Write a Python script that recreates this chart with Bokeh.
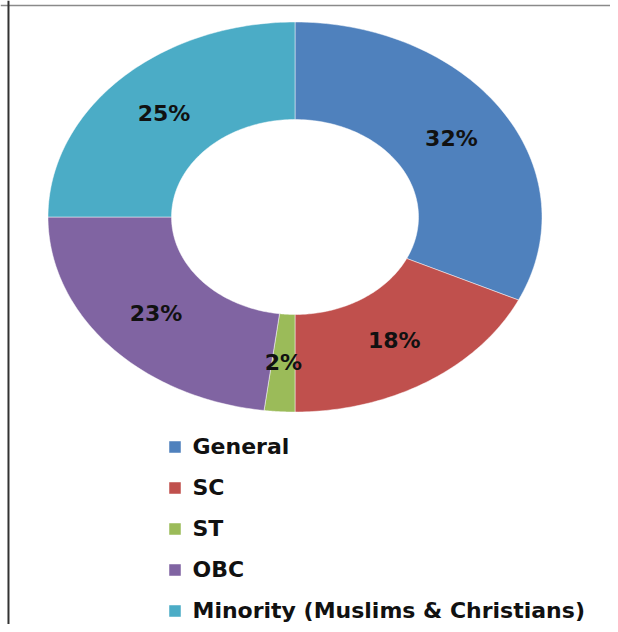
import numpy as np
from bokeh.plotting import figure
from bokeh.models import Range1d, ColumnDataSource, Legend, LegendItem, Span
from bokeh.core.properties import value
from bokeh.embed import file_html
from bokeh.resources import INLINE

categories = ["General", "SC", "ST", "OBC", "Minority (Muslims & Christians)"]
shares = [32, 18, 2, 23, 25]
labels = ["32%", "18%", "2%", "23%", "25%"]
colors = ["#4F81BD", "#C0504D", "#9BBB59", "#8064A2", "#4BACC6"]

FONT = "DejaVu Sans"
W, H = 610, 624

p = figure(width=W, height=H, output_backend="svg", toolbar_location=None,
           x_range=Range1d(-1.1923, 1.2773), y_range=Range1d(-2.0897, 1.1103),
           min_border=0, outline_line_color=None)
p.axis.visible = False
p.grid.visible = False
p.background_fill_color = "white"
p.border_fill_color = "white"

inner, outer = 0.5, 1.0
total = float(sum(shares))
cum = np.concatenate([[0], np.cumsum(shares)]) / total * 2 * np.pi

renderers = []
lx, ly = [], []
for i, cat in enumerate(categories):
    a0, a1 = cum[i], cum[i + 1]
    t = np.linspace(a0, a1, 80)
    xs = np.concatenate([outer * np.sin(t), inner * np.sin(t[::-1])])
    ys = np.concatenate([outer * np.cos(t), inner * np.cos(t[::-1])])
    r = p.patch(xs, ys, fill_color=colors[i], line_color="white", line_width=0.8, line_alpha=0.6)
    renderers.append(r)
    mid = (a0 + a1) / 2
    lx.append(0.75 * np.sin(mid))
    ly.append(0.75 * np.cos(mid))

src = ColumnDataSource(dict(x=lx, y=ly, text=labels))
p.text(x="x", y="y", text="text", source=src, text_align="center", text_baseline="middle",
       text_font=value(FONT), text_font_style="bold", text_font_size="22px", text_color="#111111")

# frame border (top and left visible in the reference)
p.add_layout(Span(location=1.0846, dimension="width", line_color="#8a8a8a", line_width=1.5))
p.add_layout(Span(location=-1.160, dimension="height", line_color="#333333", line_width=2))

items = [LegendItem(label=c, renderers=[r]) for c, r in zip(categories, renderers)]
legend = Legend(items=items, location=(166.5, -1), orientation="vertical",
                glyph_width=15, glyph_height=15, label_standoff=11,
                label_text_font=FONT, label_text_font_style="bold", label_text_font_size="22px",
                label_text_color="#111111", label_height=30, spacing=11,
                padding=0, margin=0, border_line_color=None, background_fill_alpha=0)
p.add_layout(legend, "center")

open("out.html", "w").write(file_html(p, INLINE))
